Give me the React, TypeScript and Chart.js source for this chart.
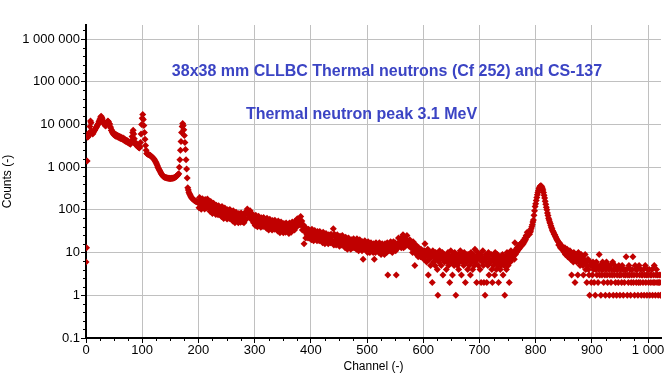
import React, { useEffect, useRef } from 'react';
import { Chart, registerables } from 'chart.js';

Chart.register(...registerables);

const TITLE_LINE_1 = '38x38 mm CLLBC Thermal neutrons (Cf 252) and CS-137';
const TITLE_LINE_2 = 'Thermal neutron peak 3.1 MeV';
const X_TITLE = 'Channel (-)';
const Y_TITLE = 'Counts (-)';

const xTickValues = [0, 100, 200, 300, 400, 500, 600, 700, 800, 900, 1000];
const xTickLabels = ['0', '100', '200', '300', '400', '500', '600', '700', '800', '900', '1 000'];
const yTickValues = [0.1, 1, 10, 100, 1000, 10000, 100000, 1000000];
const yTickLabels = ['0.1', '1', '10', '100', '1 000', '10 000', '100 000', '1 000 000'];

const X_MIN = 0;
const X_MAX = 1023;
const Y_MIN = 0.1;
const Y_MAX = 2130000;

// counts per channel (index = channel)
const counts: (number | null)[] = [
  // 0
  6, 13, 1400, 5000, 5200, 5800, 6500, 9000, 12000, 11000, 7000, 6200, 6000, 6400, 6800, 7200, 7500, 8000, 8500, 8800,
  // 20
  9500, 10000, 10500, 11500, 12500, 13500, 15000, 15500, 14500, 13500, 12000, 11000, 10500, 10000, 9500, 9200, 9800, 10500, 11500, 12000,
  // 40
  11500, 10500, 10200, 9000, 8300, 7200, 7300, 6400, 6500, 5800, 6100, 5500, 5900, 5300, 5700, 5200, 5500, 5000, 5400, 4900,
  // 60
  5200, 4700, 5100, 4600, 4900, 4500, 4800, 4300, 4600, 4150, 4400, 4000, 4250, 3900, 4150, 3750, 3950, 3600, 3750, 3450,
  // 80
  3700, 4200, 5200, 6500, 7300, 6000, 4600, 3800, 3500, 3300, 3600, 3200, 3000, 3100, 2900, 2800, 3000, 3800, 6000, 10000,
  // 100
  14000, 17000, 13000, 9500, 6500, 4500, 3200, 2500, 2100, 2050, 2000, 1980, 1950, 1920, 1900, 1850, 1800, 1750, 1700, 1650,
  // 120
  1600, 1550, 1480, 1400, 1320, 1250, 1170, 1080, 1000, 940, 880, 830, 790, 740, 700, 670, 640, 620, 600, 590,
  // 140
  580, 575, 570, 565, 560, 555, 552, 550, 548, 546, 545, 546, 548, 550, 553, 556, 560, 565, 575, 590,
  // 160
  600, 610, 630, 650, 680, 700, 1000, 1500, 2500, 4000, 6500, 9000, 10500, 9500, 7500, 5500, 3800, 2600, 1500, 900,
  // 180
  560, 330, 290, 260, 240, 225, 210, 200, 190, 185, 180, 175, 170, 165, 162, 160, 158, 155, 152, 150,
  // 200
  150, 112, 194, 133, 170, 103, 154, 183, 116, 138, 159, 105, 174, 126, 142, 110, 180, 128, 116, 155,
  // 220
  125, 92, 158, 108, 137, 82, 121, 143, 90, 106, 121, 78, 128, 93, 105, 77, 125, 89, 79, 106,
  // 240
  95, 70, 120, 82, 104, 63, 93, 110, 70, 82, 94, 61, 100, 72, 81, 63, 102, 72, 65, 87,
  // 260
  75, 55, 96, 66, 83, 50, 74, 88, 56, 66, 75, 50, 82, 59, 67, 51, 84, 60, 53, 71,
  // 280
  64, 50, 84, 60, 80, 60, 90, 105, 80, 95, 92, 68, 96, 66, 72, 58, 80, 60, 50, 70,
  // 300
  58, 43, 75, 52, 66, 40, 60, 71, 45, 53, 60, 39, 65, 47, 54, 41, 66, 47, 42, 57,
  // 320
  50, 37, 64, 44, 56, 34, 51, 60, 38, 45, 52, 34, 56, 40, 46, 35, 57, 41, 36, 49,
  // 340
  43, 32, 55, 38, 49, 29, 44, 52, 33, 39, 44, 29, 48, 34, 39, 30, 49, 35, 31, 42,
  // 360
  38, 28, 49, 34, 44, 30, 41, 52, 35, 44, 48, 34, 54, 41, 47, 40, 62, 48, 44, 60,
  // 380
  56, 44, 70, 48, 55, 34, 42, 44, 16, 31, 34, 22, 37, 26, 30, 22, 35, 25, 22, 30,
  // 400
  27, 20, 35, 24, 31, 19, 28, 33, 21, 25, 29, 19, 31, 23, 26, 19, 31, 22, 20, 27,
  // 420
  23, 17, 30, 21, 27, 16, 24, 28, 18, 22, 24, 16, 26, 19, 22, 17, 27, 19, 18, 24,
  // 440
  36, 15, 27, 19, 24, 15, 22, 26, 16, 19, 22, 14, 24, 17, 20, 15, 25, 18, 16, 21,
  // 460
  18, 13, 23, 16, 21, 12, 19, 22, 14, 17, 19, 12, 20, 15, 17, 13, 21, 15, 13, 18,
  // 480
  16, 12, 21, 14, 18, 11, 17, 20, 13, 15, 17, 11, 18, 7, 15, 12, 19, 14, 12, 16,
  // 500
  14, 10, 18, 13, 16, 10, 15, 17, 11, 13, 15, 10, 16, 7, 14, 10, 17, 12, 11, 15,
  // 520
  13, 10, 17, 12, 15, 9, 14, 16, 10, 12, 14, 9, 16, 11, 13, 10, 17, 3, 11, 15,
  // 540
  14, 11, 18, 13, 16, 10, 15, 18, 12, 14, 17, 11, 3, 14, 16, 13, 22, 16, 14, 20,
  // 560
  18, 13, 23, 16, 26, 13, 19, 23, 14, 17, 20, 25, 19, 15, 16, 14, 20, 15, 13, 16,
  // 580
  14, 10, 18, 12, 15, 5, 13, 15, 9, 11, 12, 8, 13, 9, 10, 8, 12, 9, 8, 11,
  // 600
  9, 7, 11, 16, 8, 10, 6, 9, 12, 3, 8, 7, 10, 5, 9, 8, 2, 11, 6, 9,
  // 620
  8, 5, 10, 7, 9, 4, 1, 8, 6, 11, 7, 9, 5, 8, 10, 3, 7, 9, 6, 8,
  // 640
  7, 4, 9, 6, 10, 5, 8, 2, 7, 11, 6, 8, 3, 9, 7, 5, 10, 6, 1, 8,
  // 660
  7, 5, 9, 4, 8, 6, 11, 7, 3, 9, 6, 8, 5, 10, 7, 2, 8, 6, 9, 4,
  // 680
  7, 9, 5, 8, 3, 10, 6, 8, 4, 9, 7, 5, 12, 6, 8, 2, 7, 10, 5, 8,
  // 700
  7, 4, 9, 2, 8, 6, 11, 5, 2, 7, 1, 9, 6, 2, 8, 5, 10, 3, 7, 6,
  // 720
  6, 9, 4, 2, 7, 5, 8, 3, 10, 6, 4, 7, 9, 5, 2, 8, 6, 4, 7, 5,
  // 740
  6, 9, 3, 7, 5, 1, 8, 6, 4, 10, 7, 5, 9, 2, 8, 6, 11, 7, 9, 8,
  // 760
  8, 10, 7, 17, 9, 12, 10, 13, 11, 14, 12, 15, 13, 16, 14, 17, 15, 18, 16, 20,
  // 780
  18, 22, 20, 25, 23, 30, 26, 28, 30, 27, 30, 32, 36, 40, 45, 52, 58, 75, 95, 120,
  // 800
  140, 165, 195, 225, 255, 285, 315, 340, 355, 365, 360, 345, 320, 290, 255, 220, 190, 160, 135, 115,
  // 820
  100, 85, 74, 64, 58, 52, 48, 43, 39, 36, 33, 31, 29, 27, 26, 24, 23, 21, 20, 19,
  // 840
  18, 15, 17, 16, 13, 15, 14, 12, 13, 11, 12, 10, 13, 9, 11, 10, 12, 8, 10, 9,
  // 860
  9, 11, 7, 10, 3, 8, 9, 6, 10, 7, 2, 8, 9, 6, 7, 3, 10, 6, 8, 5,
  // 880
  7, 9, 6, 8, 5, 3, 7, 6, 9, 4, 6, 2, 5, 7, 4, 3, 1, 6, 5, 2,
  // 900
  5, 3, 6, 4, 2, 5, 1, 4, 6, 3, 5, 2, 4, 9, 3, 5, 1, 4, 3, 6,
  // 920
  4, 2, 5, 3, 1, 4, 6, 3, 2, 5, 4, 1, 3, 5, 2, 4, 3, 6, 1, 4,
  // 940
  3, 5, 2, 4, 1, 3, 4, 2, 5, 3, 1, 4, 3, 2, 5, 4, 1, 3, 2, 4,
  // 960
  3, 8, 4, 1, 3, 2, 5, 3, 4, 1, 2, 3, 4, 8, 2, 3, 1, 5, 4, 2,
  // 980
  3, 4, 1, 2, 5, 3, 2, 4, 1, 3, 3, 2, 4, 1, 3, 5, 2, 3, 1, 4,
  // 1000
  3, 2, 4, 1, 3, 2, 3, 4, 1, 2, 3, 5, 2, 1, 3, 4, 2, 3, 1, 2,
  // 1020
  3, 2, 1, 3,
];

const FONT_FAMILY = '"Liberation Sans", Arial, sans-serif';
const POINT_COLOR = '#c00000';
const TITLE_COLOR = '#3b44c4';

const minorTicksPlugin = {
  id: 'minorTicks',
  afterDraw(chart: any) {
    const { ctx, scales } = chart;
    const x = scales.x;
    const y = scales.y;
    ctx.save();
    ctx.strokeStyle = '#000';
    ctx.lineWidth = 1;
    ctx.beginPath();
    for (let d = -1; d <= 6; d++) {
      for (let k = 1; k <= 4; k++) {
        const v = Math.pow(10, d + k / 5);
        if (v > y.max) continue;
        const py = Math.round(y.getPixelForValue(v)) + 0.5;
        ctx.moveTo(x.left - 3, py);
        ctx.lineTo(x.left, py);
      }
    }
    for (let c = 25; c <= x.max; c += 25) {
      if (c % 100 === 0) continue;
      const px = Math.round(x.getPixelForValue(c)) + 0.5;
      ctx.moveTo(px, y.bottom);
      ctx.lineTo(px, y.bottom + 3);
    }
    ctx.stroke();
    ctx.restore();
  },
};

const annotationPlugin = {
  id: 'annotationText',
  afterDatasetsDraw(chart: any) {
    const { ctx } = chart;
    ctx.save();
    ctx.font = `bold 16px ${FONT_FAMILY}`;
    ctx.fillStyle = TITLE_COLOR;
    ctx.textAlign = 'center';
    ctx.textBaseline = 'alphabetic';
    ctx.fillText(TITLE_LINE_1, 387, 76);
    ctx.fillText(TITLE_LINE_2, 361.5, 118.5);
    ctx.restore();
  },
};

export default function App() {
  const canvasRef = useRef<HTMLCanvasElement | null>(null);

  useEffect(() => {
    const canvas = canvasRef.current;
    if (!canvas) return;
    const points = counts
      .map((c, i) => ({ x: i, y: c }))
      .filter((p) => p.y !== null && (p.y as number) > 0);

    const chart = new Chart(canvas, {
      type: 'scatter',
      data: {
        datasets: [
          {
            data: points as any,
            backgroundColor: POINT_COLOR,
            borderColor: POINT_COLOR,
            borderWidth: 0,
            pointStyle: 'rectRot',
            pointRadius: 3.5,
            showLine: false,
          },
        ],
      },
      options: {
        responsive: false,
        animation: false,
        events: [],
        layout: { padding: { left: 0, right: 8, top: 25, bottom: 0 } },
        plugins: {
          legend: { display: false },
          tooltip: { enabled: false },
        },
        scales: {
          x: {
            type: 'linear',
            min: X_MIN,
            max: X_MAX,
            afterBuildTicks: (s: any) => {
              s.ticks = xTickValues.map((v) => ({ value: v }));
            },
            afterFit: (s: any) => {
              s.height = 40;
              s.paddingLeft = 0;
              s.paddingRight = 0;
            },
            ticks: {
              autoSkip: false,
              maxRotation: 0,
              padding: 0,
              color: '#000',
              font: { family: FONT_FAMILY, size: 13 },
              callback: (v: any) => {
                const i = xTickValues.indexOf(Number(v));
                return i >= 0 ? xTickLabels[i] : '';
              },
            },
            grid: { color: '#c0c0c0', lineWidth: 1, tickLength: 5, tickColor: '#000' },
            border: { color: '#000', width: 2 },
            title: {
              display: true,
              text: X_TITLE,
              color: '#000',
              font: { family: FONT_FAMILY, size: 12 },
              padding: { top: 0, bottom: 4 },
            },
          },
          y: {
            type: 'logarithmic',
            min: Y_MIN,
            max: Y_MAX,
            afterBuildTicks: (s: any) => {
              s.ticks = yTickValues.map((v) => ({ value: v }));
            },
            afterFit: (s: any) => {
              s.width = 86;
              s.paddingTop = 0;
              s.paddingBottom = 0;
            },
            ticks: {
              autoSkip: false,
              padding: 1,
              color: '#000',
              font: { family: FONT_FAMILY, size: 13 },
              callback: (v: any) => {
                const n = Number(v);
                const i = yTickValues.findIndex((t) => Math.abs(t - n) / t < 1e-6);
                return i >= 0 ? yTickLabels[i] : '';
              },
            },
            grid: { color: '#c0c0c0', lineWidth: 1, tickLength: 5, tickColor: '#000' },
            border: { color: '#000', width: 2 },
            title: {
              display: true,
              text: Y_TITLE,
              color: '#000',
              font: { family: FONT_FAMILY, size: 12 },
              padding: { top: 0, bottom: 0 },
            },
          },
        },
      } as any,
      plugins: [minorTicksPlugin, annotationPlugin],
    });

    return () => {
      chart.destroy();
    };
  }, []);

  return (
    <div style={{ position: 'absolute', left: 0, top: 0, width: 669, height: 378, background: '#fff' }}>
      <canvas ref={canvasRef} width={669} height={378} style={{ display: 'block' }} />
    </div>
  );
}
